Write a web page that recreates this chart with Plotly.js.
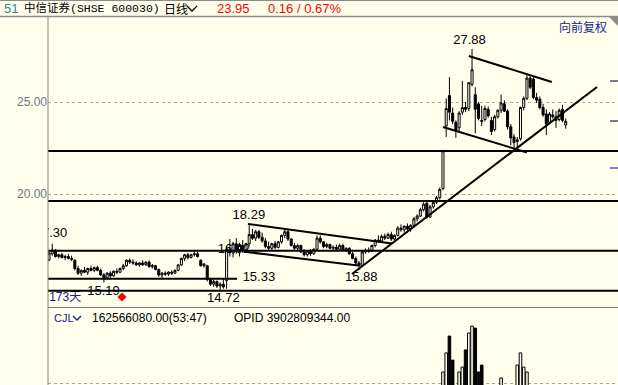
<!DOCTYPE html>
<html><head><meta charset="utf-8">
<script src="https://cdn.plot.ly/plotly-3.0.1.min.js"></script>
<style>html,body{margin:0;padding:0;background:#FFFFEC;}#chart{width:618px;height:385px;}</style>
</head><body><div id="chart"></div>
<script>
// ---- data (daily OHLC of 中信证券 600030) ----
const open  = [16.41,16.75,16.95,16.60,16.70,16.55,16.60,16.50,16.40,15.95,15.70,15.85,15.75,15.95,15.85,16.00,15.85,15.60,15.45,15.70,15.55,15.80,15.75,15.95,16.10,16.40,16.30,16.25,16.15,16.25,16.15,16.30,16.05,16.10,15.90,15.60,15.70,15.65,15.75,15.70,15.85,16.15,16.50,16.70,16.55,16.70,16.75,16.40,16.10,16.10,15.35,15.10,15.25,15.00,15.10,15.30,17.00,16.80,17.30,16.90,17.20,16.95,17.30,17.80,17.60,17.95,17.65,17.45,17.15,17.05,17.30,17.10,17.40,17.75,17.95,17.55,17.20,17.05,17.20,16.85,16.70,16.90,16.75,17.00,17.60,17.40,17.15,17.25,17.05,17.10,17.00,17.20,16.95,17.05,16.75,16.50,16.25,16.10,16.85,16.95,16.90,17.20,17.50,17.45,17.70,17.60,17.80,17.55,17.75,18.15,18.05,18.25,18.10,18.30,18.65,18.80,19.15,19.50,18.75,19.30,19.55,19.80,20.30,23.70,25.35,24.40,23.90,23.60,24.45,24.70,24.65,25.95,25.40,24.90,24.00,24.05,24.60,24.00,23.50,24.20,24.55,24.90,24.50,23.65,23.10,22.85,23.00,24.70,25.20,26.30,26.25,25.25,25.15,24.70,24.35,23.90,24.30,24.20,24.05,24.60,23.75];
const high  = [16.85,17.30,17.00,16.75,16.80,16.70,16.75,16.65,16.45,16.10,15.90,16.05,16.00,16.10,16.05,16.10,15.95,15.70,15.75,15.80,15.85,15.95,16.00,16.20,16.45,16.50,16.45,16.35,16.30,16.40,16.35,16.40,16.20,16.15,15.95,15.75,15.80,15.80,15.85,15.90,16.20,16.55,16.75,16.80,16.75,16.92,16.85,16.45,16.25,16.15,15.45,15.35,15.30,15.20,15.40,17.15,17.55,17.40,17.60,17.35,17.50,17.35,18.29,18.10,18.05,18.05,17.90,17.60,17.40,17.35,17.45,17.45,17.80,18.05,18.05,17.60,17.35,17.30,17.25,17.00,16.95,17.00,17.05,17.75,17.75,17.45,17.35,17.30,17.20,17.25,17.30,17.30,17.10,17.10,16.85,16.60,16.35,16.95,17.05,17.10,17.25,17.55,17.75,17.80,17.85,17.90,17.95,17.80,18.25,18.35,18.30,18.40,18.35,18.75,18.90,19.25,19.55,19.60,19.40,19.65,19.90,20.35,22.40,25.20,26.35,24.70,24.00,24.50,26.15,25.00,26.10,27.88,25.80,25.00,24.80,24.80,24.75,24.20,24.30,24.60,25.40,25.10,24.60,23.80,23.25,23.10,24.75,25.30,26.55,26.40,26.35,25.50,25.30,24.90,24.60,24.45,24.60,24.50,24.65,24.85,24.10];
const low   = [16.35,16.65,16.55,16.50,16.50,16.40,16.45,16.35,15.85,15.60,15.55,15.70,15.60,15.80,15.75,15.80,15.55,15.19,15.35,15.45,15.50,15.65,15.70,15.85,16.05,16.20,16.15,16.10,16.05,16.10,16.10,16.00,15.95,15.85,15.50,15.45,15.55,15.55,15.60,15.65,15.80,16.10,16.35,16.45,16.50,16.60,16.55,16.05,16.00,15.25,15.00,14.95,14.90,14.72,14.85,14.85,16.60,16.55,16.75,16.60,16.80,16.80,17.20,17.50,17.45,17.55,17.35,17.05,16.95,16.95,17.00,17.05,17.30,17.60,17.45,17.15,16.95,16.90,16.80,16.60,16.60,16.65,16.70,16.95,17.30,17.05,17.05,17.00,16.90,16.95,16.95,16.90,16.85,16.70,16.45,16.15,15.88,16.05,16.75,16.80,16.85,17.10,17.35,17.40,17.50,17.55,17.45,17.40,17.70,17.95,17.90,18.00,17.95,18.25,18.50,18.75,19.05,18.65,18.70,19.20,19.45,19.70,20.20,23.10,24.00,23.80,23.05,23.40,24.30,24.45,24.50,25.85,23.30,24.00,23.70,23.95,24.15,23.20,23.40,24.10,24.40,24.45,23.50,22.65,22.50,22.45,22.90,24.55,25.10,25.70,25.15,24.95,24.60,24.20,23.20,23.80,24.10,23.60,23.95,23.90,23.55];
const close = [16.79,16.95,16.60,16.70,16.55,16.60,16.50,16.45,15.95,15.70,15.85,15.75,15.95,15.85,16.00,15.85,15.60,15.45,15.70,15.55,15.80,15.75,15.95,16.10,16.40,16.30,16.25,16.15,16.25,16.15,16.30,16.05,16.10,15.90,15.60,15.70,15.65,15.75,15.70,15.85,16.15,16.50,16.70,16.55,16.70,16.75,16.60,16.10,16.20,15.35,15.10,15.25,15.00,15.10,14.95,17.00,16.80,17.30,16.90,17.20,16.95,17.30,17.80,17.60,17.95,17.65,17.45,17.15,17.05,17.30,17.10,17.40,17.75,17.95,17.55,17.20,17.05,17.20,16.85,16.70,16.90,16.75,17.00,17.60,17.40,17.15,17.25,17.05,17.10,17.00,17.20,16.95,17.05,16.75,16.50,16.25,16.10,16.85,16.95,16.90,17.20,17.50,17.45,17.70,17.60,17.80,17.55,17.75,18.15,18.05,18.25,18.10,18.30,18.65,18.80,19.15,19.45,18.75,19.30,19.55,19.80,20.25,22.35,24.65,24.45,23.95,23.45,24.40,24.70,24.60,26.05,26.75,24.60,24.10,23.95,24.65,24.25,23.40,24.20,24.55,24.95,24.50,23.65,23.05,22.80,22.95,24.70,25.20,26.30,25.80,25.25,25.10,24.70,24.30,23.80,24.35,24.20,24.00,24.55,24.00,23.95];
const day = close.map((_, i) => i);

// volume (亿股), only the bars that rise into the visible strip
const volDay = [122,123,124,125,127,128,129,130,131,132,133,134,140,145,146,147,148];
const volume = [3.75,4.52,5.20,4.23,3.75,3.95,4.64,5.32,5.60,5.52,3.75,4.03,3.51,4.03,4.52,3.95,3.75];

// drawn horizontal levels
const levelsFull = [22.34, 19.62, 16.92, 14.74];
const levelPart = {price: 15.40, from: -0.31, to: 58.2};
// drawn trend lines [day0, price0, day1, price1]
const trendLines = [
  [61.6, 18.37, 106.2, 17.31],
  [60.7, 16.86, 95.7, 16.11],
  [93.8, 15.65, 169.7, 25.82],
  [130.0, 27.50, 155.7, 26.09],
  [122.0, 23.64, 148.0, 22.26]
];
// price labels
const labelText = ['17.30','15.19','14.72','15.33','18.29','15.88','27.88'];
const labelDay  = [0.6, 16.9, 54.0, 65.0, 61.9, 96.7, 130.2];
const labelPrice= [17.83, 14.67, 14.29, 15.43, 18.80, 15.43, 28.32];

const BG = '#FFFFEC';
const W = 618, H = 385, L = 48, T = 17;
const PX = x => (x - L) / (W - L);
const PY = y => (H - y) / (H - T);

const traces = [
  {type:'scatter', mode:'text', x:[57.3], y:[16.96], text:['16.92'], textfont:{family:'Liberation Sans', size:13, color:'#000'}, hoverinfo:'skip', cliponaxis:true},
  {type:'candlestick', x:day, open:open, high:high, low:low, close:close,
   increasing:{line:{color:'#000', width:1}, fillcolor:BG},
   decreasing:{line:{color:'#000', width:1}, fillcolor:'#000'},
   whiskerwidth:0, hoverinfo:'skip'},
  {type:'bar', x:volDay, y:volume, yaxis:'y2', width:0.8,
   marker:{color: volDay.map(d => close[d] >= open[d] ? BG : '#000'), line:{color:'#000', width:1}}, hoverinfo:'skip'},
  {type:'scatter', mode:'text', x:labelDay, y:labelPrice, text:labelText, textfont:{family:'Liberation Sans', size:13, color:'#000'}, hoverinfo:'skip', cliponaxis:true},
  {type:'scatter', mode:'text', x:[5.0], y:[14.35], text:['173天'], textfont:{family:'Liberation Sans, Noto Sans CJK SC', size:12, color:'#1a1a9a'}, hoverinfo:'skip', cliponaxis:true},
  {type:'scatter', mode:'markers', x:[22.6], y:[14.40], marker:{symbol:'diamond', size:7, color:'#ff0000'}, hoverinfo:'skip', cliponaxis:true}
];

const shapes = [];
levelsFull.forEach(p => shapes.push({type:'line', xref:'paper', yref:'y', x0:0, x1:1, y0:p, y1:p, line:{color:'#000', width:2}}));
shapes.push({type:'line', xref:'x', yref:'y', x0:levelPart.from, x1:levelPart.to, y0:levelPart.price, y1:levelPart.price, line:{color:'#000', width:2}});
trendLines.forEach(t => shapes.push({type:'line', xref:'x', yref:'y', x0:t[0], y0:t[1], x1:t[2], y1:t[3], line:{color:'#000', width:2}}));
// frame
shapes.push({type:'line', xref:'paper', yref:'paper', x0:PX(0), x1:1, y0:PY(0.5), y1:PY(0.5), line:{color:'#8c8c8c', width:1}});
shapes.push({type:'line', xref:'paper', yref:'paper', x0:PX(0), x1:1, y0:PY(16.5), y1:PY(16.5), line:{color:'#8c8c8c', width:1.5}});
shapes.push({type:'line', xref:'paper', yref:'paper', x0:0, x1:0, y0:0, y1:1, line:{color:'#808080', width:1}});
shapes.push({type:'line', xref:'paper', yref:'paper', x0:0, x1:1, y0:PY(307.5), y1:PY(307.5), line:{color:'#808080', width:1}});
shapes.push({type:'path', xref:'paper', yref:'paper', path:`M${PX(609)},${PY(17)} L${PX(618)},${PY(17)} L${PX(618)},${PY(26)} Z`, fillcolor:'#8c8c8c', line:{width:0}});
// chevrons
shapes.push({type:'path', xref:'paper', yref:'paper', path:`M${PX(187)},${PY(6)} L${PX(192)},${PY(11)} L${PX(197)},${PY(6)}`, line:{color:'#000', width:1.3}});
shapes.push({type:'path', xref:'paper', yref:'paper', path:`M${PX(73)},${PY(316)} L${PX(77)},${PY(320)} L${PX(81)},${PY(316)}`, line:{color:'#1a1a8c', width:1.3}});
// right edge marks
[[81,'#1a1a6a'],[121,'#202040'],[168,'#2828c8']].forEach(m => shapes.push({type:'line', xref:'paper', yref:'paper', x0:PX(610), x1:1, y0:PY(m[0]), y1:PY(m[0]), line:{color:m[1], width:1.2}}));

function txt(t, x, y, color, size, family, anchor) {
  return {text:t, xref:'paper', yref:'paper', x:PX(x), y:PY(y), xanchor:anchor||'left', yanchor:'middle',
          showarrow:false, borderpad:0, font:{color:color, size:size, family:family}};
}
const annotations = [
  txt('51', 3, 8, '#2b8c8c', 13, 'Liberation Sans'),
  txt('中信证券(SHSE 600030)', 23, 8, '#000', 11.5, 'Liberation Mono, Noto Sans CJK SC'),
  txt('日线', 163, 8, '#000', 12, 'Noto Sans CJK SC'),
  txt('23.95', 216, 8, '#ff0000', 13, 'Liberation Sans'),
  txt('0.16 / 0.67%', 267, 8, '#ff0000', 13, 'Liberation Sans'),
  txt('向前复权', 608, 26, '#1c1c8c', 12, 'Noto Sans CJK SC', 'right'),
  txt('CJL', 53, 318, '#1a1a8c', 11, 'Liberation Sans'),
  txt('162566080.00(53:47)', 91, 318, '#000', 12, 'Liberation Sans'),
  txt('OPID 3902809344.00', 233, 318, '#000', 12, 'Liberation Sans')
];

const layout = {
  width:W, height:H, margin:{l:L, r:0, t:T, b:0, pad:0},
  paper_bgcolor:BG, plot_bgcolor:BG, showlegend:false, boxgap:0.1,
  xaxis:{range:[-0.31, 176.2], showticklabels:false, showgrid:false, zeroline:false, showline:false, ticks:'', rangeslider:{visible:false}, fixedrange:true},
  yaxis:{domain:[0.2092, 1], range:[13.804, 29.62], tickvals:[20, 25], ticktext:['20.00','25.00'], showgrid:true, gridcolor:'#a8a8a8', griddash:'dot', gridwidth:1, zeroline:false, showline:false, ticks:'', automargin:false, tickfont:{family:'Liberation Sans', size:12, color:'#6b7485'}},
  yaxis2:{domain:[0, 0.2092], range:[3.226, 6.33], tickvals:[3.3], ticktext:['3.3亿'], showgrid:true, gridcolor:'#a8a8a8', griddash:'dot', gridwidth:1, zeroline:false, showline:false, ticks:'', automargin:false, tickfont:{family:'Liberation Sans, Noto Sans CJK SC', size:12, color:'#6b7485'}},
  shapes:shapes, annotations:annotations
};
Plotly.newPlot('chart', traces, layout, {staticPlot:true, displayModeBar:false});
</script></body></html>
